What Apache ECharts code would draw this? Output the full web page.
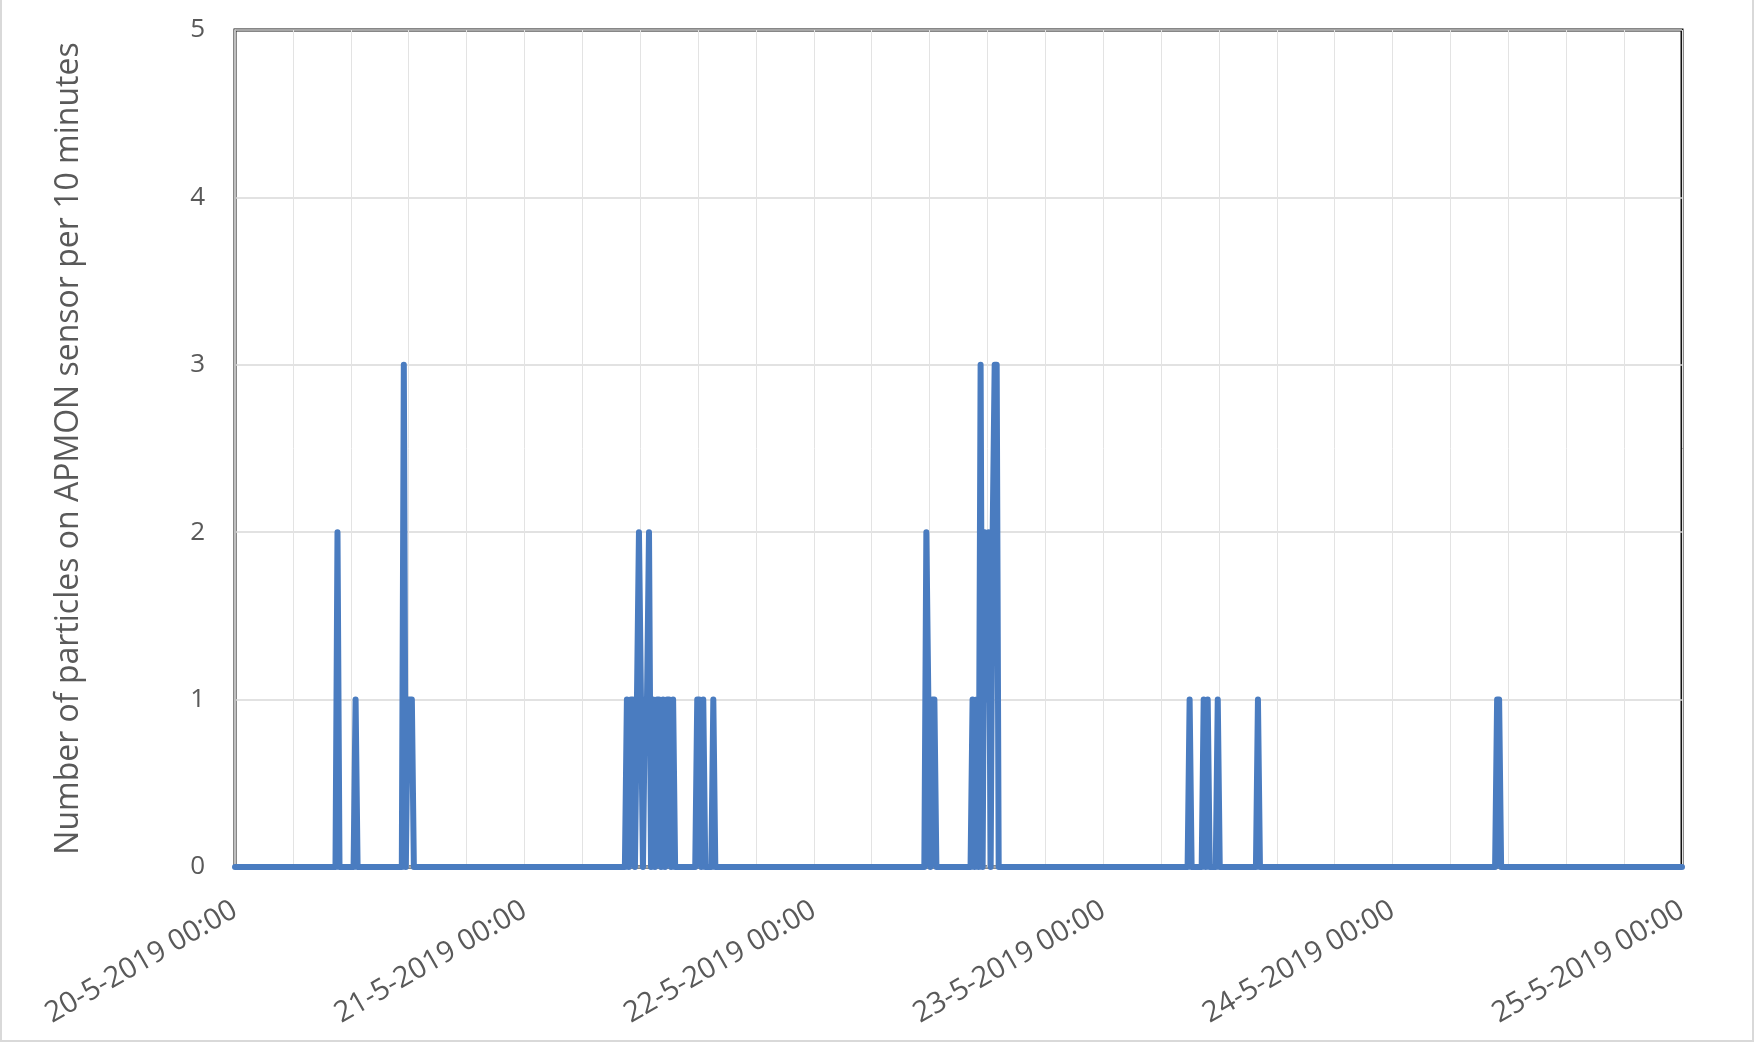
<!DOCTYPE html>
<html>
<head>
<meta charset="utf-8">
<style>
  html, body { margin: 0; padding: 0; background: #ffffff; }
  #chart { width: 1756px; height: 1044px; }
</style>
<script src="https://cdn.jsdelivr.net/npm/echarts@6/dist/echarts.min.js"></script>
</head>
<body>
<div id="chart"></div>
<script>
// ---- Data ----
const stepMinutes = 10;   // one reading per 10 minutes
const totalDays = 5;      // 20-5-2019 00:00 .. 25-5-2019 00:00

// Tick labels of the date axis (one per day)
const dayLabels = ['20-5-2019 00:00', '21-5-2019 00:00', '22-5-2019 00:00',
                   '23-5-2019 00:00', '24-5-2019 00:00', '25-5-2019 00:00'];

// Y axis ticks
const yTicks = [0, 1, 2, 3, 4, 5];

// Non-zero 10-minute readings ("day-month hh:mm"); every other slot reads 0.
const eventStamp = [
  '20-5 08:30', '20-5 10:00', '20-5 14:00', '20-5 14:20', '20-5 14:30', '20-5 14:40',
  '21-5 08:30', '21-5 08:50', '21-5 09:00', '21-5 09:20', '21-5 09:30', '21-5 09:40',
  '21-5 10:00', '21-5 10:10', '21-5 10:20', '21-5 10:40', '21-5 11:00', '21-5 11:10',
  '21-5 11:30', '21-5 11:50', '21-5 12:00', '21-5 12:20',
  '21-5 14:20', '21-5 14:30', '21-5 14:50', '21-5 15:40',
  '22-5 09:20', '22-5 09:30', '22-5 09:50', '22-5 10:00',
  '22-5 13:10', '22-5 13:30', '22-5 13:50', '22-5 14:10', '22-5 14:20', '22-5 14:30',
  '22-5 14:50', '22-5 15:00', '22-5 15:10',
  '23-5 07:10', '23-5 08:20', '23-5 08:40', '23-5 09:30', '23-5 12:50',
  '24-5 08:40', '24-5 08:50'
];
const eventCount = [
  2, 1, 3, 1, 1, 1,
  1, 1, 1, 1, 2, 1,
  1, 1, 2, 1, 1, 1,
  1, 1, 1, 1,
  1, 1, 1, 1,
  2, 1, 1, 1,
  1, 1, 3, 2, 1, 2,
  2, 3, 3,
  1, 1, 1, 1, 1,
  1, 1
];

// ---- Build the 10-minute series ----
const minutesPerDay = 1440;
const firstDay = 20;
const totalMinutes = totalDays * minutesPerDay;
const values = new Map();
for (let k = 0; k < eventStamp.length; k++) {
  const [dm, hm] = eventStamp[k].split(' ');
  const day = Number(dm.split('-')[0]) - firstDay;
  const [hh, mm] = hm.split(':').map(Number);
  values.set(day * minutesPerDay + hh * 60 + mm, eventCount[k]);
}
const seriesData = [];
for (let m = 0; m <= totalMinutes; m += stepMinutes) {
  seriesData.push([m, values.has(m) ? values.get(m) : 0]);
}

const textColor = '#595959';
const fontFamily = '"Open Sans", "Noto Sans", sans-serif';

const chart = echarts.init(document.getElementById('chart'), null, { renderer: 'canvas' });
chart.setOption({
  animation: false,
  backgroundColor: '#ffffff',
  grid: {
    left: 235, right: 74, top: 30, bottom: 177,
    show: true, borderColor: '#111111', borderWidth: 3, backgroundColor: 'transparent'
  },
  graphic: [{
    type: 'rect', silent: true, z: -10,
    shape: { x: 1, y: -3, width: 1752, height: 1044 },
    style: { fill: 'none', stroke: '#d9d9d9', lineWidth: 2 }
  }],
  xAxis: {
    type: 'value',
    min: 0, max: totalMinutes, interval: 288,
    axisLine: { show: false },
    axisTick: { show: false },
    splitLine: { show: true, lineStyle: { color: '#e3e3e3', width: 1 } },
    axisLabel: {
      show: true,
      rotate: 30,
      margin: 41,
      fontSize: 29,
      color: textColor,
      fontFamily: fontFamily,
      showMinLabel: true,
      showMaxLabel: true,
      hideOverlap: false,
      formatter: function (v) {
        if (v % minutesPerDay === 0) return dayLabels[v / minutesPerDay];
        return '';
      }
    }
  },
  yAxis: {
    type: 'value',
    min: yTicks[0], max: yTicks[yTicks.length - 1], interval: 1,
    name: 'Number of particles on APMON sensor per 10 minutes',
    nameLocation: 'middle',
    nameGap: 150,
    nameTextStyle: { fontSize: 32, color: textColor, fontFamily: fontFamily },
    axisLine: { show: true, lineStyle: { color: '#bfbfbf', width: 2 } },
    axisTick: { show: false },
    splitLine: { show: true, lineStyle: { color: '#d9d9d9', width: 1.5 } },
    axisLabel: { fontSize: 26, color: textColor, fontFamily: fontFamily, margin: 30 }
  },
  series: [{
    type: 'line',
    data: seriesData,
    showSymbol: false,
    symbol: 'none',
    lineStyle: { color: '#4a7cc0', width: 6, join: 'round', cap: 'round' },
    z: 5
  }]
});
</script>
</body>
</html>
